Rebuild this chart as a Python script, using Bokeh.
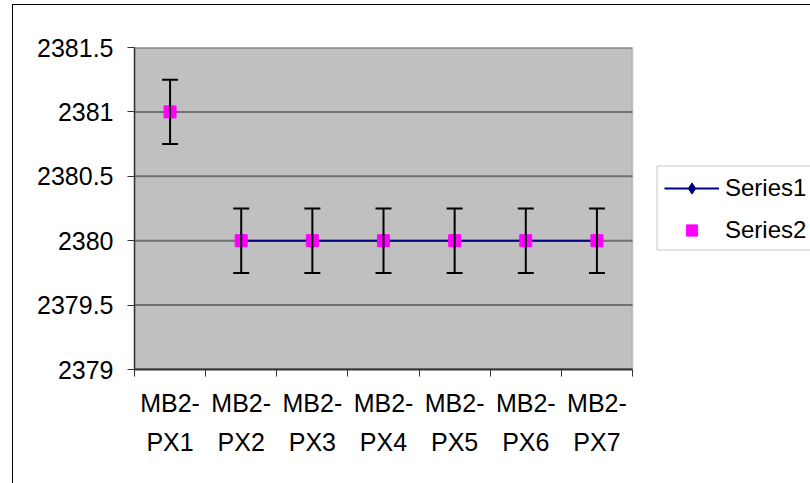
import numpy as np
from bokeh.plotting import figure
from bokeh.models import (Range1d, FixedTicker, Legend, LegendItem, Whisker,
                          TeeHead, ColumnDataSource, BoxAnnotation)
from bokeh.embed import file_html
from bokeh.resources import INLINE

# ---- data ----
categories = ["MB2-PX1", "MB2-PX2", "MB2-PX3", "MB2-PX4", "MB2-PX5", "MB2-PX6", "MB2-PX7"]
series1 = [2381, 2380, 2380, 2380, 2380, 2380, 2380]
series2 = [2381, 2380, 2380, 2380, 2380, 2380, 2380]
error2 = [0.25, 0.25, 0.25, 0.25, 0.25, 0.25, 0.25]
y_ticks = [2379, 2379.5, 2380, 2380.5, 2381, 2381.5]

n = len(categories)
x = np.arange(n) + 0.5
s1 = np.array(series1, dtype=float)
s2 = np.array(series2, dtype=float)
err = np.array(error2, dtype=float)

FONT = "Liberation Sans"
FS = "25px"

# layout (pixels)
PLOT_AREA_W = 498          # grey plot area width
FRAME_W = 676              # frame runs on to the right edge (legend sits inside it)
x_end = n * FRAME_W / PLOT_AREA_W

p = figure(frame_width=FRAME_W, frame_height=322,
           min_border_left=121, min_border_right=0,
           min_border_top=42, min_border_bottom=114,
           x_range=Range1d(0, x_end), y_range=Range1d(y_ticks[0], y_ticks[-1]),
           output_backend="svg", toolbar_location=None,
           background_fill_color="white", border_fill_color="white",
           styles={"margin-left": "12px", "margin-top": "4px",
                   "border-left": "1px solid black", "border-top": "1px solid black"})

p.outline_line_color = None
p.xgrid.visible = False
p.ygrid.visible = False

# grey plot area
plot_bg = BoxAnnotation(left=0, right=n, bottom=y_ticks[0], top=y_ticks[-1],
                        fill_color="#C0C0C0", fill_alpha=1,
                        line_color="#808080", line_width=2, level="image")
p.add_layout(plot_bg)

# horizontal grid lines (limited to the plot area)
p.segment(x0=[0] * len(y_ticks), x1=[n] * len(y_ticks), y0=y_ticks, y1=y_ticks,
          line_color="#707070", line_width=2)

# y axis
p.yaxis.ticker = FixedTicker(ticks=y_ticks)
p.yaxis.major_label_overrides = {t: f"{t:g}" for t in y_ticks}
p.yaxis.major_label_text_font = FONT
p.yaxis.major_label_text_font_size = FS
p.yaxis.major_label_text_color = "black"
p.yaxis.major_label_standoff = 14
p.yaxis.major_tick_out = 7
p.yaxis.major_tick_in = 0
p.yaxis.major_tick_line_color = "#333333"
p.yaxis.minor_tick_line_color = None
p.yaxis.axis_line_color = "#333333"
p.yaxis.axis_line_width = 1.5

# x axis: labels at category centres, ticks at category boundaries
p.xaxis.bounds = (0, n)
p.xaxis.ticker = FixedTicker(ticks=list(x), minor_ticks=list(np.arange(n + 1)))
p.xaxis.major_label_overrides = {float(xi): c.replace("-", "-\n") for xi, c in zip(x, categories)}
p.xaxis.major_label_text_font = FONT
p.xaxis.major_label_text_font_size = FS
p.xaxis.major_label_text_color = "black"
p.xaxis.major_label_text_line_height = 1.4
p.xaxis.major_label_standoff = 12
p.xaxis.major_tick_out = 0
p.xaxis.major_tick_in = 0
p.xaxis.minor_tick_out = 7
p.xaxis.minor_tick_in = 0
p.xaxis.minor_tick_line_color = "#333333"
p.xaxis.axis_line_color = "#333333"
p.xaxis.axis_line_width = 2

# error bars
src = ColumnDataSource(dict(x=x, upper=s2 + err, lower=s2 - err))
wh = Whisker(base="x", upper="upper", lower="lower", source=src,
             line_color="black", line_width=2, level="glyph",
             upper_head=TeeHead(size=16, line_width=2, line_color="black"),
             lower_head=TeeHead(size=16, line_width=2, line_color="black"))
p.add_layout(wh)

# series 1: line (PX2..PX7) with diamond markers
l1 = p.line(x[1:], s1[1:], line_color="#000080", line_width=2)
d1 = p.scatter(x, s1, marker="diamond", size=15,
               fill_color="#000080", line_color="#000080")
# series 2: magenta squares
sq = p.scatter(x, s2, marker="square", size=12,
               fill_color="#FF00FF", line_color="#FF00FF")

legend = Legend(items=[LegendItem(label="Series1", renderers=[l1, d1]),
                       LegendItem(label="Series2", renderers=[sq])],
                location=(530, 125), margin=0, padding=0, spacing=14,
                glyph_width=55, glyph_height=28, label_height=28,
                label_standoff=6,
                label_text_font=FONT, label_text_font_size="24px",
                label_text_color="black",
                border_line_color=None,
                background_fill_color="white", background_fill_alpha=0)
p.add_layout(legend)

# legend frame that runs past the right edge of the chart (as in the original)
legend_frame = BoxAnnotation(left=642.5, right=1200, top=159.5, bottom=243.5,
                             left_units="canvas", right_units="canvas",
                             top_units="canvas", bottom_units="canvas",
                             fill_alpha=0, line_color="#404040", line_width=1,
                             level="overlay")
p.add_layout(legend_frame)

open("out.html", "w").write(file_html(p, INLINE))
